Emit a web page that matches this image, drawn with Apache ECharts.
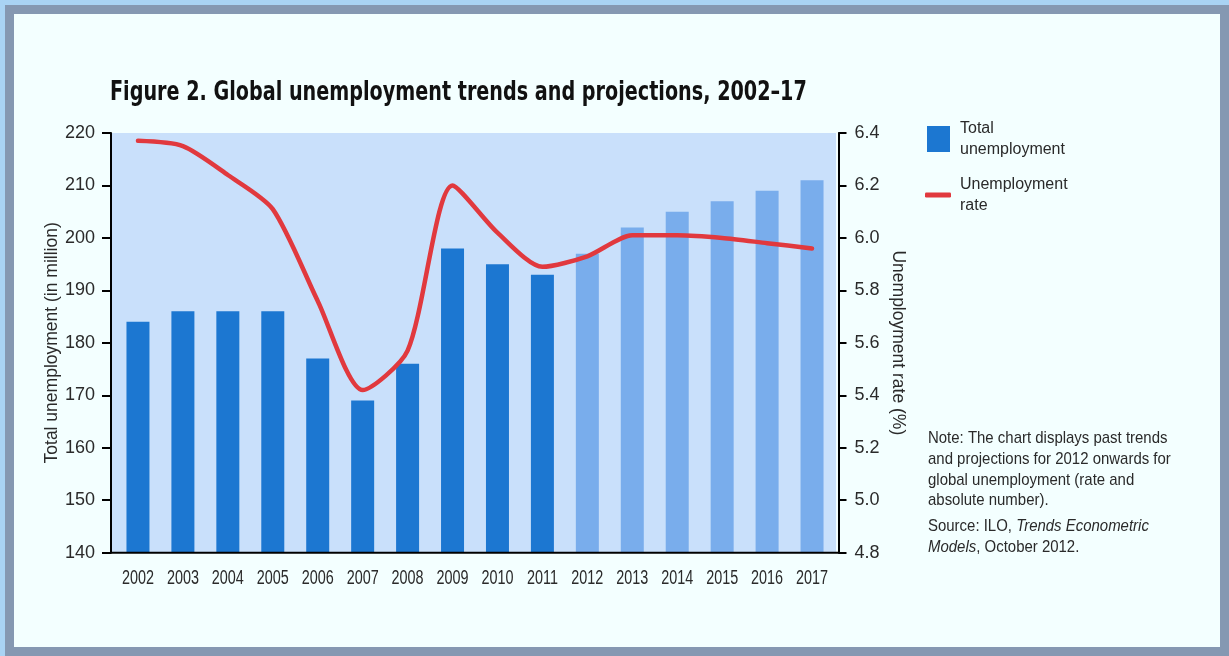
<!DOCTYPE html>
<html>
<head>
<meta charset="utf-8">
<title>Global unemployment trends and projections, 2002–17</title>
<script src="https://cdn.jsdelivr.net/npm/echarts@6/dist/echarts.min.js"></script>
<style>
  html, body { margin: 0; padding: 0; width: 1229px; height: 656px; overflow: hidden; background: #a9d3f4; }
  #frame { position: absolute; left: 5px; top: 5px; width: 1206px; height: 633px;
           border: 9px solid #8598b2; background: #f3ffff; }
  #chart { position: absolute; left: 0; top: 0; width: 1229px; height: 656px; }
</style>
</head>
<body>
<div id="frame"></div>
<div id="chart"></div>
<script>
// Years on the category axis
const years = ['2002','2003','2004','2005','2006','2007','2008','2009',
               '2010','2011','2012','2013','2014','2015','2016','2017'];
// Total unemployment, millions
const totalUnemployment = [184, 186, 186, 186, 177, 169, 176, 198,
                           195, 193, 197, 202, 205, 207, 209, 211];
// Unemployment rate, percent
const unemploymentRate = [6.37, 6.35, 6.24, 6.11, 5.76, 5.42, 5.57, 6.20,
                          6.02, 5.89, 5.93, 6.01, 6.01, 6.00, 5.98, 5.96];
// Years from this one on are projections
const firstProjectedYear = '2012';

const leftTicks = { min: 140, max: 220, interval: 10 };
const rightTicks = { min: 4.8, max: 6.4, interval: 0.2 };

const DARK_BLUE = '#1c77d1';
const LIGHT_BLUE = '#79adec';
const PLOT_BG = '#c9e0fb';
const RED = '#e1393e';
const TEXT = '#2a2a2a';
const SANS = '"Liberation Sans", Arial, sans-serif';
const CONDENSED = '"DejaVu Sans Condensed", "DejaVu Sans", sans-serif';

const projIdx = years.indexOf(firstProjectedYear);
const barData = totalUnemployment.map((v, i) => ({
  value: v,
  itemStyle: { color: i >= projIdx ? LIGHT_BLUE : DARK_BLUE }
}));

const chart = echarts.init(document.getElementById('chart'), null, { renderer: 'canvas' });

// Year labels under each bar, set in a narrow face
function renderYearLabel(params, api) {
  const idx = api.value(0);
  const pt = api.coord([idx, leftTicks.min]);
  return {
    type: 'text',
    x: pt[0], y: pt[1] + 16,
    scaleX: 0.72,
    silent: true,
    style: {
      text: years[idx],
      textAlign: 'center', textVerticalAlign: 'top',
      fontFamily: SANS, fontSize: 20, fill: TEXT
    }
  };
}

const option = {
  backgroundColor: 'transparent',
  animation: false,
  grid: { left: 115.5, right: 394.5, top: 133, bottom: 103.3, containLabel: false },
  legend: [
    {
      orient: 'vertical', left: 927, top: 115, padding: 0,
      itemWidth: 23, itemHeight: 26,
      data: [{ name: 'Total\nunemployment', icon: 'rect' }],
      textStyle: { fontFamily: SANS, fontSize: 16, color: TEXT, lineHeight: 21, padding: [6, 0, 0, 5] },
      selectedMode: false
    },
    {
      orient: 'vertical', left: 925, top: 171, padding: 0,
      itemWidth: 26, itemHeight: 5,
      data: [{ name: 'Unemployment\nrate', icon: 'roundRect' }],
      textStyle: { fontFamily: SANS, fontSize: 16, color: TEXT, lineHeight: 21, padding: [6, 0, 0, 4] },
      selectedMode: false
    }
  ],
  xAxis: {
    type: 'category',
    data: years,
    axisLine: { show: false },
    axisTick: { show: false },
    axisLabel: { show: false }
  },
  yAxis: [
    {
      type: 'value',
      min: leftTicks.min, max: leftTicks.max, interval: leftTicks.interval,
      offset: 4.5,
      name: 'Total unemployment (in million)',
      nameLocation: 'middle', nameRotate: 90, nameGap: 50, nameMoveOverlap: false,
      nameTextStyle: { fontFamily: SANS, fontSize: 17.5, color: TEXT },
      axisLine: { show: true, lineStyle: { color: '#000', width: 2 } },
      axisTick: { show: true, length: 9, lineStyle: { color: '#000', width: 2 } },
      axisLabel: { fontFamily: SANS, fontSize: 18, color: TEXT, margin: 16 },
      splitLine: { show: false }
    },
    {
      type: 'value',
      min: rightTicks.min, max: rightTicks.max, interval: rightTicks.interval,
      offset: 4,
      name: 'Unemployment rate (%)',
      nameLocation: 'middle', nameRotate: -90, nameGap: 50, nameMoveOverlap: false,
      nameTextStyle: { fontFamily: SANS, fontSize: 17.5, color: TEXT },
      axisLine: { show: true, lineStyle: { color: '#000', width: 2 } },
      axisTick: { show: true, length: 8, lineStyle: { color: '#000', width: 2 } },
      axisLabel: { fontFamily: SANS, fontSize: 18, color: TEXT, margin: 16,
                   formatter: v => v.toFixed(1) },
      splitLine: { show: false }
    }
  ],
  series: [
    {
      name: 'Total\nunemployment',
      type: 'bar',
      yAxisIndex: 0,
      barWidth: 23,
      itemStyle: { color: DARK_BLUE },
      data: barData,
      z: 2
    },
    {
      name: 'Unemployment\nrate',
      type: 'line',
      yAxisIndex: 1,
      smooth: 0.25,
      symbol: 'none',
      lineStyle: { color: RED, width: 4.5, cap: 'round', join: 'round' },
      itemStyle: { color: RED },
      data: unemploymentRate,
      z: 3
    },
    {
      name: 'years',
      type: 'custom',
      yAxisIndex: 0,
      clip: false,
      silent: true,
      renderItem: renderYearLabel,
      data: years.map((y, i) => [i]),
      z: 5
    }
  ],
  graphic: [
    // plot background
    { type: 'rect', z: -10, silent: true,
      shape: { x: 111, y: 133, width: 725, height: 419.7 },
      style: { fill: PLOT_BG } },
    // baseline across the plot
    { type: 'line', z: 10, silent: true,
      shape: { x1: 110, y1: 552.7, x2: 839.5, y2: 552.7 },
      style: { stroke: '#000', lineWidth: 2 } },
    // heading
    { type: 'text', x: 110, y: 80, scaleX: 0.82, silent: true,
      style: {
        text: 'Figure 2. Global unemployment trends and projections, 2002–17',
        fontFamily: CONDENSED, fontWeight: 'bold', fontSize: 26, fill: '#111',
        textVerticalAlign: 'top'
      } },
    // note and source
    { type: 'text', x: 928, y: 428, scaleX: 0.88, silent: true,
      style: {
        text: 'Note: The chart displays past trends\nand projections for 2012 onwards for\nglobal unemployment (rate and\nabsolute number).',
        fontFamily: SANS, fontSize: 17, lineHeight: 20.8, fill: TEXT
      } },
    { type: 'text', x: 928, y: 516, scaleX: 0.88, silent: true,
      style: {
        text: 'Source: ILO, {i|Trends Econometric}\n{i|Models}, October 2012.',
        fontFamily: SANS, fontSize: 17, lineHeight: 20.8, fill: TEXT,
        rich: { i: { fontFamily: SANS, fontStyle: 'italic', fontSize: 17, lineHeight: 20.8, fill: TEXT } }
      } }
  ]
};

chart.setOption(option);
</script>
</body>
</html>
